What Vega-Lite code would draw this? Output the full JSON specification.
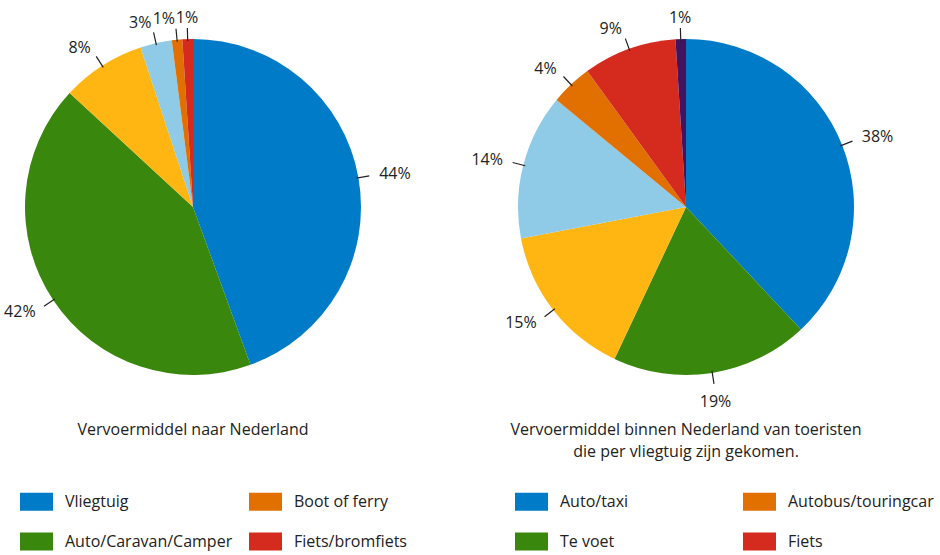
{
  "$schema": "https://vega.github.io/schema/vega-lite/v6.json",
  "padding": 0,
  "background": "white",
  "bounds": "flush",
  "spacing": 132,
  "config": {
    "view": {"stroke": null},
    "font": "Open Sans",
    "text": {"font": "Open Sans"},
    "title": {"font": "Open Sans", "fontSize": 16, "fontWeight": "normal", "color": "#222222", "lineHeight": 22},
    "legend": {"labelFont": "Open Sans", "labelFontSize": 16, "labelColor": "#222222"}
  },
  "datasets": {
    "naar": [
      {"categorie": "Vliegtuig", "pct": 44, "volgorde": 1},
      {"categorie": "Auto/Caravan/Camper", "pct": 42, "volgorde": 2},
      {"categorie": "Trein", "pct": 8, "volgorde": 3},
      {"categorie": "Bus/touringcar", "pct": 3, "volgorde": 4},
      {"categorie": "Boot of ferry", "pct": 1, "volgorde": 5},
      {"categorie": "Fiets/bromfiets", "pct": 1, "volgorde": 6}
    ],
    "binnen": [
      {"categorie": "Auto/taxi", "pct": 38, "volgorde": 1},
      {"categorie": "Te voet", "pct": 19, "volgorde": 2},
      {"categorie": "Trein", "pct": 15, "volgorde": 3},
      {"categorie": "Tram/metro/bus", "pct": 14, "volgorde": 4},
      {"categorie": "Autobus/touringcar", "pct": 4, "volgorde": 5},
      {"categorie": "Fiets", "pct": 9, "volgorde": 6},
      {"categorie": "Overig", "pct": 1, "volgorde": 7}
    ]
  },
  "hconcat": [
    {
      "width": 386,
      "height": 414,
      "data": {"name": "naar"},
      "transform": [{"joinaggregate": [{"op": "sum", "field": "pct", "as": "total"}]}],
      "title": {"text": "Vervoermiddel naar Nederland", "orient": "bottom", "offset": 8, "baseline": "top", "dy": -137},
      "encoding": {
        "theta": {"field": "pct", "type": "quantitative", "stack": true},
        "order": {"field": "volgorde", "type": "quantitative"},
        "detail": {"field": "categorie", "type": "nominal"}
      },
      "layer": [
        {
          "mark": {"type": "arc", "outerRadius": 168},
          "encoding": {
            "color": {
              "field": "categorie",
              "type": "nominal",
              "scale": {
                "domain": ["Vliegtuig", "Auto/Caravan/Camper", "Boot of ferry", "Fiets/bromfiets", "Trein", "Bus/touringcar"],
                "range": ["#007BC7", "#39870C", "#E17000", "#D52B1E", "#FFB612", "#8FCAE7"]
              },
              "legend": {
                "orient": "none",
                "legendX": 20,
                "legendY": 485,
                "title": null,
                "columns": 2,
                "gridAlign": "all",
                "columnPadding": 16,
                "rowPadding": 14,
                "padding": 0,
                "values": ["Vliegtuig", "Auto/Caravan/Camper", "Boot of ferry", "Fiets/bromfiets"],
                "symbolType": "M-1,-0.55H1V0.55H-1Z",
                "symbolSize": 1089,
                "symbolStrokeWidth": 0,
                "symbolOpacity": 1,
                "labelOffset": 12,
                "labelLimit": 300
              }
            }
          }
        },
        {
          "mark": {"type": "arc", "innerRadius": 166, "outerRadius": 179, "padAngle": 3, "filled": false, "stroke": "#222222", "strokeWidth": 1.2}
        },
        {
          "mark": {
            "type": "text",
            "radius": 189,
            "fontSize": 16,
            "fill": "#222222",
            "baseline": {"expr": "cos(PI * (datum.pct_start + datum.pct_end) / datum.total) < -0.9 ? 'top' : 'middle'"},
            "align": {"expr": "(abs(sin(PI * (datum.pct_start + datum.pct_end) / datum.total)) < 0.05 || cos(PI * (datum.pct_start + datum.pct_end) / datum.total) < -0.9) ? 'center' : (sin(PI * (datum.pct_start + datum.pct_end) / datum.total) > 0 ? 'left' : 'right')"},
            "text": {"expr": "datum.pct + '%'"}
          }
        }
      ]
    },
    {
      "width": 336,
      "height": 414,
      "data": {"name": "binnen"},
      "transform": [{"joinaggregate": [{"op": "sum", "field": "pct", "as": "total"}]}],
      "title": {"text": ["Vervoermiddel binnen Nederland van toeristen", "die per vliegtuig zijn gekomen."], "orient": "bottom", "offset": 8, "baseline": "top", "dy": -137},
      "encoding": {
        "theta": {"field": "pct", "type": "quantitative", "stack": true},
        "order": {"field": "volgorde", "type": "quantitative"},
        "detail": {"field": "categorie", "type": "nominal"}
      },
      "layer": [
        {
          "mark": {"type": "arc", "outerRadius": 168},
          "encoding": {
            "color": {
              "field": "categorie",
              "type": "nominal",
              "scale": {
                "domain": ["Auto/taxi", "Te voet", "Autobus/touringcar", "Fiets", "Trein", "Tram/metro/bus", "Overig"],
                "range": ["#007BC7", "#39870C", "#E17000", "#D52B1E", "#FFB612", "#8FCAE7", "#42145F"]
              },
              "legend": {
                "orient": "none",
                "legendX": -3,
                "legendY": 485,
                "title": null,
                "columns": 2,
                "gridAlign": "all",
                "columnPadding": 37,
                "rowPadding": 14,
                "padding": 0,
                "values": ["Auto/taxi", "Te voet", "Autobus/touringcar", "Fiets"],
                "symbolType": "M-1,-0.55H1V0.55H-1Z",
                "symbolSize": 1089,
                "symbolStrokeWidth": 0,
                "symbolOpacity": 1,
                "labelOffset": 12,
                "labelLimit": 300
              }
            }
          }
        },
        {
          "mark": {"type": "arc", "innerRadius": 166, "outerRadius": 179, "padAngle": 3, "filled": false, "stroke": "#222222", "strokeWidth": 1.2}
        },
        {
          "mark": {
            "type": "text",
            "radius": 189,
            "fontSize": 16,
            "fill": "#222222",
            "baseline": {"expr": "cos(PI * (datum.pct_start + datum.pct_end) / datum.total) < -0.9 ? 'top' : 'middle'"},
            "align": {"expr": "(abs(sin(PI * (datum.pct_start + datum.pct_end) / datum.total)) < 0.05 || cos(PI * (datum.pct_start + datum.pct_end) / datum.total) < -0.9) ? 'center' : (sin(PI * (datum.pct_start + datum.pct_end) / datum.total) > 0 ? 'left' : 'right')"},
            "text": {"expr": "datum.pct + '%'"}
          }
        }
      ]
    }
  ],
  "resolve": {
    "scale": {"color": "independent", "theta": "independent"},
    "legend": {"color": "independent"}
  }
}
